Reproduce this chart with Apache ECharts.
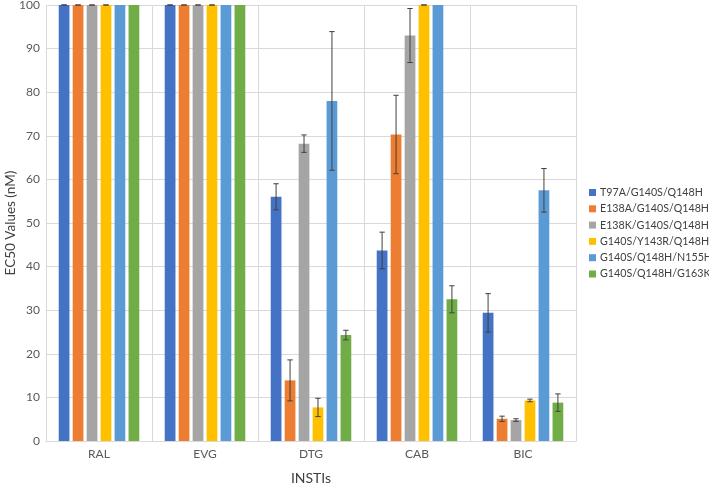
<!DOCTYPE html>
<html><head><meta charset="utf-8">
<script src="https://cdn.jsdelivr.net/npm/echarts@6/dist/echarts.min.js"></script>
<style>html,body{margin:0;padding:0;background:#fff}#c{width:709px;height:483px}</style>
</head><body><div id="c"></div>
<script>
const categories = ['RAL', 'EVG', 'DTG', 'CAB', 'BIC'];
const seriesNames = ['T97A/G140S/Q148H', 'E138A/G140S/Q148H', 'E138K/G140S/Q148H', 'G140S/Y143R/Q148H', 'G140S/Q148H/N155H', 'G140S/Q148H/G163K'];
const colors = ['#4472C4', '#ED7D31', '#A5A5A5', '#FFC000', '#5B9BD5', '#70AD47'];
const valsT97A  = [100, 100, 56.0, 43.7, 29.4];
const valsE138A = [100, 100, 13.9, 70.3, 5.1];
const valsE138K = [100, 100, 68.2, 93.0, 4.8];
const valsY143R = [100, 100, 7.7, 100, 9.3];
const valsN155H = [100, 100, 78.0, 100, 57.5];
const valsG163K = [100, 100, 24.3, 32.5, 8.8];
const errT97A  = [0, 0, 3.0, 4.2, 4.4];
const errE138A = [0, 0, 4.7, 9.0, 0.6];
const errE138K = [0, 0, 2.0, 6.2, 0.3];
const errY143R = [0, 0, 2.1, 0, 0.3];
const errN155H = [null, null, 15.9, null, 5.0];
const errG163K = [null, null, 1.1, 3.1, 2.0];
const allVals = [valsT97A, valsE138A, valsE138K, valsY143R, valsN155H, valsG163K];
const allErrs = [errT97A, errE138A, errE138K, errY143R, errN155H, errG163K];

const CAT_GAP = 0.24, BAR_GAP = 0.30, N = seriesNames.length;
const series = [];
seriesNames.forEach((name, i) => {
  series.push({
    name, type: 'bar', data: allVals[i], itemStyle: {color: colors[i]},
    barGap: (BAR_GAP*100)+'%', barCategoryGap: (CAT_GAP*100)+'%'
  });
});
seriesNames.forEach((name, i) => {
  const data = [];
  categories.forEach((c, j) => {
    if (allErrs[i][j] !== null) data.push([j, allVals[i][j], allErrs[i][j]]);
  });
  series.push({
    type: 'custom', silent: true, z: 10, data,
    renderItem: function (params, api) {
      const j = api.value(0), v = api.value(1), e = api.value(2);
      const band = api.size([1, 0])[0];
      const bw = band * (1 - CAT_GAP) / (N + (N - 1) * BAR_GAP);
      const step = bw * (1 + BAR_GAP);
      const c = api.coord([j, v]);
      const x = c[0] + (i - (N - 1) / 2) * step;
      const top = api.coord([j, Math.min(100, v + e)])[1];
      const bot = api.coord([j, v - e])[1];
      const hw = 2.7;
      const st = {stroke: '#404040', lineWidth: 1};
      return {type: 'group', children: [
        {type: 'line', shape: {x1: x, y1: top, x2: x, y2: bot}, style: st},
        {type: 'line', shape: {x1: x - hw, y1: top, x2: x + hw, y2: top}, style: st},
        {type: 'line', shape: {x1: x - hw, y1: bot, x2: x + hw, y2: bot}, style: st}
      ]};
    }
  });
});

const chart = echarts.init(document.getElementById('c'));
chart.setOption({
  animation: false,
  textStyle: {fontFamily: 'Lato, Open Sans, sans-serif'},
  color: colors,
  grid: {left: 46, right: 133, top: 5, bottom: 42, containLabel: false, outerBoundsMode: 'none'},
  legend: {
    orient: 'vertical', left: 589, top: 187, itemWidth: 7, itemHeight: 7, itemGap: 5.3,
    icon: 'rect', data: seriesNames, padding: 0,
    textStyle: {fontSize: 10.7, color: '#404040', padding: [0, 0, 0, -1]}
  },
  xAxis: {
    type: 'category', data: categories,
    name: 'INSTIs', nameLocation: 'middle', nameGap: 30, nameMoveOverlap: false,
    nameTextStyle: {fontSize: 14, color: '#404040'},
    axisLine: {lineStyle: {color: '#D9D9D9'}},
    axisTick: {show: false},
    axisLabel: {fontSize: 12, color: '#595959', margin: 7},
    splitLine: {show: true, lineStyle: {color: '#D9D9D9'}}
  },
  yAxis: {
    type: 'value', min: 0, max: 100, interval: 10,
    name: 'EC50 Values (nM)', nameLocation: 'middle', nameGap: 28, nameMoveOverlap: false,
    nameTextStyle: {fontSize: 13.5, color: '#404040'},
    axisLine: {show: false}, axisTick: {show: false},
    axisLabel: {fontSize: 12, color: '#595959', margin: 6},
    splitLine: {lineStyle: {color: '#D9D9D9'}}
  },
  series
});
</script></body></html>
